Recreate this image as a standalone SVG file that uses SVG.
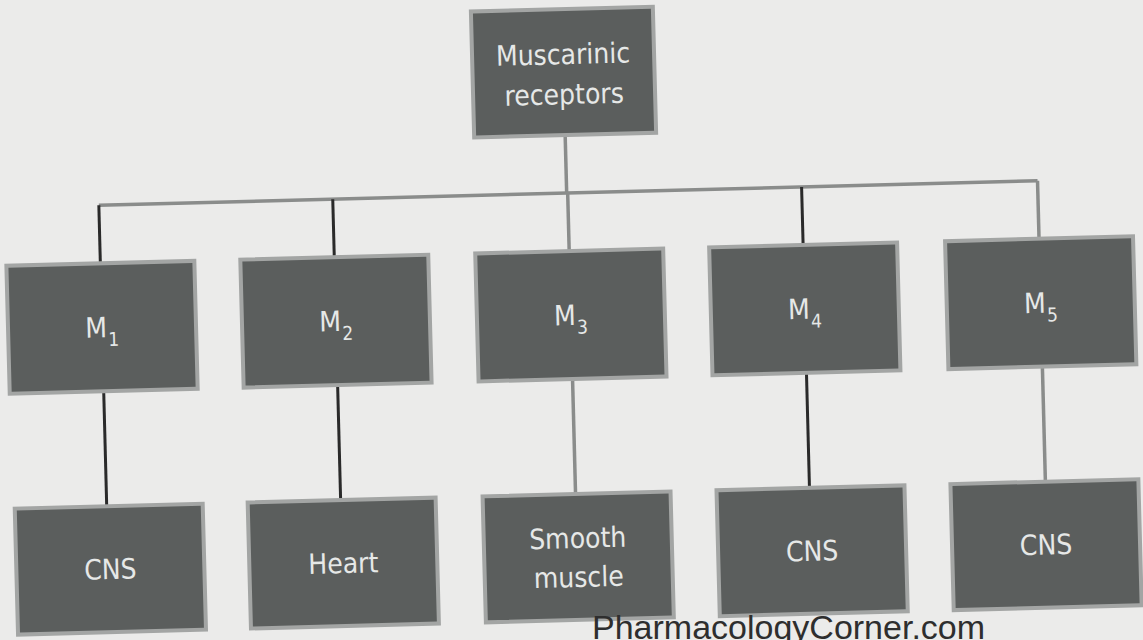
<svg xmlns="http://www.w3.org/2000/svg" width="1143" height="640" viewBox="0 0 1143 640">
<style>
.box{fill:#5b5e5d;stroke:#a3a5a4;stroke-width:4}
.lbl{font-family:"DejaVu Sans Condensed","DejaVu Sans",sans-serif;font-size:28px;fill:#e6e8e7;text-anchor:middle}
.sub{font-size:19px}
.dk{stroke:#2a2a2a;stroke-width:3;fill:none}
.gr{stroke:#8a8c8b;stroke-width:3.5;fill:none}
</style>
<rect x="0" y="0" width="1143" height="640" fill="#ebebea"/>
<g transform="rotate(-1.5 571 320)">
<g id="connectors">
<line class="gr" x1="570" y1="135" x2="570" y2="193"/>
<line class="gr" x1="102" y1="193" x2="1041" y2="193"/>
<line class="dk" x1="102" y1="193" x2="102" y2="251"/>
<line class="dk" x1="336" y1="193" x2="336" y2="251"/>
<line class="gr" x1="571" y1="193" x2="571" y2="251"/>
<line class="dk" x1="805" y1="193" x2="805" y2="251"/>
<line class="gr" x1="1041" y1="193" x2="1041" y2="251"/>
<line class="dk" x1="102" y1="379" x2="102" y2="494"/>
<line class="dk" x1="336" y1="379" x2="336" y2="494"/>
<line class="gr" x1="571" y1="379" x2="571" y2="494"/>
<line class="dk" x1="805" y1="379" x2="805" y2="494"/>
<line class="gr" x1="1041" y1="379" x2="1041" y2="494"/>
</g>
<g id="muscarinic"><rect class="box" x="479" y="9" width="182" height="126"/>
<text class="lbl" x="570" y="64">Muscarinic</text><text class="lbl" x="570" y="104">receptors</text></g>
<g id="m1"><rect class="box" x="8" y="251" width="188" height="128"/><text class="lbl" x="102" y="325">M<tspan class="sub" dx="1" dy="9">1</tspan></text></g>
<g id="m2"><rect class="box" x="242" y="251" width="188" height="128"/><text class="lbl" x="336" y="325">M<tspan class="sub" dx="1" dy="9">2</tspan></text></g>
<g id="m3"><rect class="box" x="477" y="251" width="188" height="128"/><text class="lbl" x="571" y="325">M<tspan class="sub" dx="1" dy="9">3</tspan></text></g>
<g id="m4"><rect class="box" x="711" y="251" width="188" height="128"/><text class="lbl" x="805" y="325">M<tspan class="sub" dx="1" dy="9">4</tspan></text></g>
<g id="m5"><rect class="box" x="947" y="251" width="188" height="128"/><text class="lbl" x="1041" y="325">M<tspan class="sub" dx="1" dy="9">5</tspan></text></g>
<g id="cns1"><rect class="box" x="10" y="494" width="188" height="126"/><text class="lbl" x="104" y="567">CNS</text></g>
<g id="heart"><rect class="box" x="243" y="494" width="188" height="126"/><text class="lbl" x="337" y="567">Heart</text></g>
<g id="smooth"><rect class="box" x="478" y="494" width="188" height="126"/><text class="lbl" x="572" y="548">Smooth</text><text class="lbl" x="572" y="587">muscle</text></g>
<g id="cns4"><rect class="box" x="712" y="494" width="188" height="126"/><text class="lbl" x="806" y="567">CNS</text></g>
<g id="cns5"><rect class="box" x="946" y="494" width="188" height="126"/><text class="lbl" x="1040" y="567">CNS</text></g>
</g>
<text x="592" y="639" font-family="'Liberation Sans',sans-serif" font-size="34" fill="#2e2e2e">PharmacologyCorner.com</text>
</svg>
